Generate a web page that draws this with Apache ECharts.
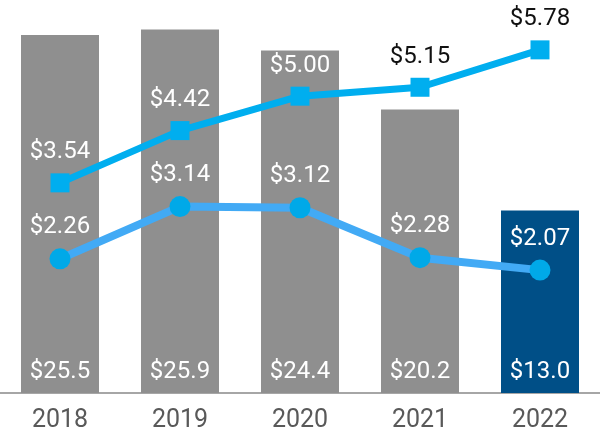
<!DOCTYPE html>
<html>
<head>
<meta charset="utf-8">
<script src="https://cdn.jsdelivr.net/npm/echarts@6/dist/echarts.min.js"></script>
<style>html,body{margin:0;padding:0;background:#fff}#c{width:600px;height:440px}</style>
</head>
<body>
<div id="c"></div>
<script>
var categories = ['2018', '2019', '2020', '2021', '2022'];
var barValues = [25.5, 25.9, 24.4, 20.2, 13.0];
var squareLine = [3.54, 4.42, 5.00, 5.15, 5.78];
var circleLine = [2.26, 3.14, 3.12, 2.28, 2.07];

var chart = echarts.init(document.getElementById('c'));
var FONT = 'Roboto';
var barData = barValues.map(function (v, i) {
  return { value: v, itemStyle: { color: i === barValues.length - 1 ? '#004F87' : '#8F8F8F' } };
});
var sqData = squareLine.map(function (v, i) {
  return { value: v, label: { color: i >= 3 ? '#111111' : '#ffffff' } };
});
chart.setOption({
  animation: false,
  grid: { left: 0, right: 0, top: 0, bottom: 47 },
  xAxis: {
    type: 'category',
    data: categories,
    axisLine: { lineStyle: { color: '#A6A6A6', width: 2 } },
    axisTick: { show: false },
    axisLabel: { color: '#595959', fontSize: 25, fontFamily: FONT, margin: 15 }
  },
  yAxis: [
    { type: 'value', min: 0, max: 28, show: false, splitLine: { show: false } },
    { type: 'value', min: 0, max: 6.62, show: false, splitLine: { show: false } }
  ],
  series: [
    {
      type: 'bar', data: barData, barWidth: '65%', yAxisIndex: 0,
      label: {
        show: true, position: 'insideBottom', distance: 9,
        color: '#ffffff', fontSize: 24, fontFamily: FONT,
        formatter: function (p) { return '$' + p.value.toFixed(1); }
      }
    },
    {
      type: 'line', data: sqData, yAxisIndex: 1,
      symbol: 'rect', symbolSize: 19,
      lineStyle: { color: '#00AEEF', width: 7 },
      itemStyle: { color: '#00AEEF' },
      label: {
        show: true, position: 'top', distance: 9,
        fontSize: 24, fontFamily: FONT,
        formatter: function (p) { return '$' + p.value.toFixed(2); }
      },
      z: 3
    },
    {
      type: 'line', data: circleLine, yAxisIndex: 1,
      symbol: 'circle', symbolSize: 21,
      lineStyle: { color: '#42AAF5', width: 8 },
      itemStyle: { color: '#00A9E8' },
      label: {
        show: true, position: 'top', distance: 9,
        color: '#ffffff', fontSize: 24, fontFamily: FONT,
        formatter: function (p) { return '$' + p.value.toFixed(2); }
      },
      z: 3
    }
  ]
});
</script>
</body>
</html>
